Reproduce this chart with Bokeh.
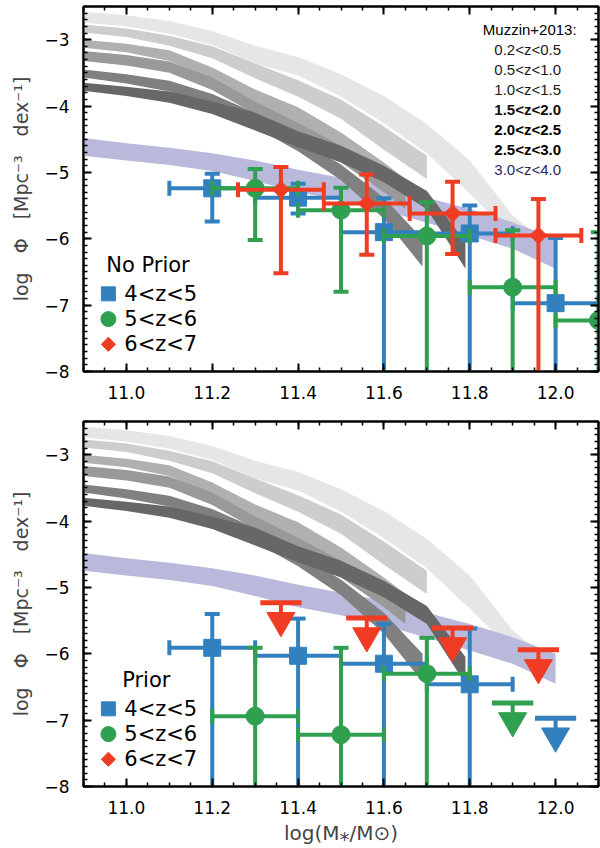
import numpy as np
from bokeh.plotting import figure
from bokeh.layouts import column
from bokeh.models import Range1d, FixedTicker, LinearAxis, ColumnDataSource
from bokeh.core.properties import value
from bokeh.embed import file_html
from bokeh.resources import INLINE

# ---------------- Muzzin+2013 bands (log M, lower, upper of log Phi) ----------------
mz_labels = ["0.2<z<0.5", "0.5<z<1.0", "1.0<z<1.5", "1.5<z<2.0",
             "2.0<z<2.5", "2.5<z<3.0", "3.0<z<4.0"]
mz_colors = ["#e6e6e6", "#cdcdcd", "#b0b0b0", "#999999", "#808080", "#676767", "#b9b9dc"]
mz_text_colors = ["#1a1a1a", "#1a1a1a", "#1a1a1a", "#111111", "#000000", "#000000", "#2a2a5a"]
mz_text_styles = ["normal", "normal", "normal", "bold", "bold", "bold", "normal"]

b1_x = [10.9, 11.0, 11.1, 11.2, 11.3, 11.4, 11.5, 11.6, 11.7, 11.8, 11.9, 11.95]
b1_lo = [-2.74, -2.80, -2.91, -3.08, -3.36, -3.54, -3.86, -4.26, -4.71, -5.32, -5.95, -6.20]
b1_hi = [-2.58, -2.63, -2.72, -2.87, -3.09, -3.26, -3.52, -3.85, -4.27, -4.82, -5.65, -5.90]

b2_x = [10.9, 11.0, 11.1, 11.2, 11.3, 11.4, 11.5, 11.6, 11.7]
b2_lo = [-2.89, -2.96, -3.09, -3.28, -3.58, -3.86, -4.19, -4.66, -5.10]
b2_hi = [-2.77, -2.83, -2.94, -3.10, -3.36, -3.61, -3.90, -4.31, -4.75]

b3_x = [10.9, 11.0, 11.1, 11.2, 11.3, 11.4, 11.5, 11.6, 11.65]
b3_lo = [-3.12, -3.19, -3.32, -3.60, -3.97, -4.26, -4.65, -5.15, -5.40]
b3_hi = [-3.00, -3.06, -3.16, -3.42, -3.75, -4.02, -4.40, -4.85, -5.10]

b4_x = [10.9, 11.0, 11.1, 11.2, 11.3, 11.4, 11.5, 11.6, 11.65]
b4_lo = [-3.32, -3.39, -3.50, -3.76, -4.12, -4.45, -4.85, -5.30, -5.55]
b4_hi = [-3.17, -3.23, -3.33, -3.57, -3.93, -4.25, -4.60, -5.00, -5.25]

b5_x = [10.9, 11.0, 11.1, 11.2, 11.3, 11.4, 11.5, 11.6, 11.69]
b5_lo = [-3.57, -3.66, -3.78, -4.00, -4.32, -4.68, -5.12, -5.70, -6.42]
b5_hi = [-3.45, -3.52, -3.62, -3.82, -4.10, -4.50, -4.88, -5.38, -6.00]

b6_x = [10.9, 11.0, 11.1, 11.2, 11.3, 11.4, 11.5, 11.6, 11.7, 11.79]
b6_lo = [-3.77, -3.85, -3.95, -4.12, -4.37, -4.62, -4.85, -5.15, -5.55, -6.45]
b6_hi = [-3.65, -3.71, -3.78, -3.93, -4.10, -4.38, -4.60, -4.90, -5.28, -6.05]

b7_x = [10.9, 11.0, 11.1, 11.2, 11.3, 11.4, 11.5, 11.6, 11.7, 11.8, 11.9, 12.0]
b7_lo = [-4.75, -4.82, -4.89, -4.98, -5.13, -5.30, -5.42, -5.57, -5.76, -5.95, -6.15, -6.45]
b7_hi = [-4.48, -4.56, -4.63, -4.71, -4.82, -4.96, -5.08, -5.20, -5.38, -5.55, -5.75, -6.00]

bands = [(b1_x, b1_lo, b1_hi), (b2_x, b2_lo, b2_hi), (b3_x, b3_lo, b3_hi),
         (b4_x, b4_lo, b4_hi), (b5_x, b5_lo, b5_hi), (b6_x, b6_lo, b6_hi),
         (b7_x, b7_lo, b7_hi)]
band_draw_order = [0, 1, 6, 2, 3, 4, 5]

# ---------------- series ----------------
series_labels = ["4<z<5", "5<z<6", "6<z<7"]
c_blue, c_green, c_red = "#3281be", "#2fa050", "#f03c23"
BELOW = -10.0  # error bar continues below the plotted range

# No Prior (top)
np_blue_x = [11.2, 11.4, 11.6, 11.8, 12.0]
np_blue_y = [-5.24, -5.38, -5.90, -5.92, -6.97]
np_blue_yhi = [-5.02, -5.17, -5.39, -5.50, -5.99]
np_blue_ylo = [-5.74, -5.62, BELOW, BELOW, BELOW]
np_blue_xlo = [11.1, 11.3, 11.5, 11.7, 11.9]
np_blue_xhi = [11.3, 11.5, 11.7, 11.9, 12.1]

np_green_x = [11.3, 11.5, 11.7, 11.9, 12.1]
np_green_y = [-5.24, -5.57, -5.96, -6.73, -7.23]
np_green_yhi = [-4.95, -5.23, -5.45, -5.87, -5.90]
np_green_ylo = [-6.02, -6.80, BELOW, BELOW, BELOW]
np_green_xlo = [11.2, 11.4, 11.6, 11.8, 12.0]
np_green_xhi = [11.4, 11.6, 11.8, 12.0, 12.2]

np_red_x = [11.36, 11.56, 11.76, 11.96]
np_red_y = [-5.26, -5.47, -5.62, -5.95]
np_red_yhi = [-4.92, -5.03, -5.14, -5.40]
np_red_ylo = [-6.52, -6.24, -6.23, BELOW]
np_red_xlo = [11.26, 11.46, 11.66, 11.86]
np_red_xhi = [11.46, 11.66, 11.86, 12.06]

# Prior (bottom)
pr_blue_x = [11.2, 11.4, 11.6, 11.8]
pr_blue_y = [-5.91, -6.03, -6.15, -6.46]
pr_blue_yhi = [-5.40, -5.47, -5.55, -5.62]
pr_blue_ylo = [BELOW, BELOW, BELOW, BELOW]
pr_blue_xlo = [11.1, 11.3, 11.5, 11.7]
pr_blue_xhi = [11.3, 11.5, 11.7, 11.9]
pr_blue_ul_x = [12.0]
pr_blue_ul_y = [-6.97]

pr_green_x = [11.3, 11.5, 11.7]
pr_green_y = [-6.94, -7.22, -6.30]
pr_green_yhi = [-5.91, -5.91, -5.76]
pr_green_ylo = [BELOW, BELOW, BELOW]
pr_green_xlo = [11.2, 11.4, 11.6]
pr_green_xhi = [11.4, 11.6, 11.8]
pr_green_ul_x = [11.9]
pr_green_ul_y = [-6.74]

pr_red_ul_x = [11.36, 11.56, 11.76, 11.96]
pr_red_ul_y = [-5.23, -5.46, -5.61, -5.94]

# ---------------- axes ----------------
x_ticks = [11.0, 11.2, 11.4, 11.6, 11.8, 12.0]
x_tick_labels = ["11.0", "11.2", "11.4", "11.6", "11.8", "12.0"]
y_ticks = [-8, -7, -6, -5, -4, -3]
y_tick_labels = ["\u22128", "\u22127", "\u22126", "\u22125", "\u22124", "\u22123"]
x_minor = [round(10.9 + 0.05 * i, 2) for i in range(25)]
y_minor = [round(-8.0 + 0.1 * i, 1) for i in range(56)]

FONT = "DejaVu Sans"
Y_LABEL = "log\u2003\u03a6\u2003[Mpc\u207b\u00b3\u2003dex\u207b\u00b9]"
X_LABEL = "log(M\u204e/M\u2299)"


def style_axis(ax, ticks, minor, labels, show_labels):
    ax.ticker = FixedTicker(ticks=ticks, minor_ticks=minor)
    ax.axis_line_width = 2
    ax.axis_line_color = "black"
    ax.major_tick_in = 8
    ax.major_tick_out = 0
    ax.minor_tick_in = 4
    ax.minor_tick_out = 0
    ax.major_tick_line_width = 2
    ax.minor_tick_line_width = 1.5
    ax.major_tick_line_color = "black"
    ax.minor_tick_line_color = "black"
    ax.major_label_text_font = FONT
    if show_labels:
        ax.major_label_overrides = {t: l for t, l in zip(ticks, labels)}
        ax.major_label_text_font_size = "17px"
        ax.major_label_text_color = "black"
        ax.major_label_standoff = 14
    else:
        ax.major_label_text_font_size = "1px"
        ax.major_label_text_color = None
        ax.major_label_standoff = 0


def make_panel(height, min_bottom, title, xlabel):
    p = figure(width=600, height=height, x_range=Range1d(10.9, 12.1),
               y_range=Range1d(-8.0, -2.5), output_backend="svg",
               toolbar_location=None, min_border_left=83, min_border_right=2,
               min_border_top=6, min_border_bottom=min_bottom)
    p.xgrid.visible = False
    p.ygrid.visible = False
    p.outline_line_color = "black"
    p.outline_line_width = 2
    p.background_fill_color = "white"
    p.border_fill_color = "white"
    ax_below = p.below[0]
    ax_left = p.left[0]
    style_axis(ax_below, x_ticks, x_minor, x_tick_labels, True)
    style_axis(ax_left, y_ticks, y_minor, y_tick_labels, True)
    ax_left.axis_label = Y_LABEL
    ax_left.axis_label_text_font = FONT
    ax_left.axis_label_text_font_size = "19px"
    ax_left.axis_label_text_font_style = "normal"
    ax_left.axis_label_standoff = 9
    if xlabel:
        ax_below.axis_label = X_LABEL
        ax_below.axis_label_text_font = FONT
        ax_below.axis_label_text_font_size = "20px"
        ax_below.axis_label_text_font_style = "normal"
        ax_below.axis_label_standoff = 4
    ax_top = LinearAxis()
    ax_right = LinearAxis()
    style_axis(ax_top, x_ticks, x_minor, x_tick_labels, False)
    style_axis(ax_right, y_ticks, y_minor, y_tick_labels, False)
    p.add_layout(ax_top, "above")
    p.add_layout(ax_right, "right")

    # Muzzin bands
    for i in band_draw_order:
        bx, blo, bhi = bands[i]
        p.varea(x=bx, y1=blo, y2=bhi, fill_color=mz_colors[i], fill_alpha=1.0)

    # legend (text + markers), placed in data units inside the frame
    p.text(x=[10.953 if title == "No Prior" else 10.99], y=[-6.40], text=[title],
           text_font=value(FONT), text_font_size="21px", text_baseline="middle",
           text_align="left", text_color="black")
    ly = [-6.83, -7.21, -7.59]
    p.scatter(x=[10.958], y=[ly[0]], marker="square", size=14, fill_color=c_blue, line_color=c_blue)
    p.scatter(x=[10.958], y=[ly[1]], marker="circle", size=15, fill_color=c_green, line_color=c_green)
    p.scatter(x=[10.958], y=[ly[2]], marker="square", angle=np.pi / 4, size=10,
              fill_color=c_red, line_color=c_red)
    p.text(x=[10.995] * 3, y=ly, text=series_labels, text_font=value(FONT),
           text_font_size="21px", text_baseline="middle", text_align="left", text_color="black")
    return p


def errbars(p, x, y, xlo, xhi, ylo, yhi, color, marker, size, angle=0.0):
    src = ColumnDataSource(dict(x=x, y=y, xlo=xlo, xhi=xhi, ylo=ylo, yhi=yhi))
    p.segment(x0="xlo", y0="y", x1="xhi", y1="y", source=src, line_color=color, line_width=4)
    p.segment(x0="x", y0="ylo", x1="x", y1="yhi", source=src, line_color=color, line_width=4)
    p.scatter(x="x", y="yhi", source=src, marker="dash", size=15, line_width=4, line_color=color)
    p.scatter(x="x", y="ylo", source=src, marker="dash", size=15, line_width=4, line_color=color)
    p.scatter(x="xlo", y="y", source=src, marker="dash", angle=np.pi / 2, size=15,
              line_width=4, line_color=color)
    p.scatter(x="xhi", y="y", source=src, marker="dash", angle=np.pi / 2, size=15,
              line_width=4, line_color=color)
    p.scatter(x="x", y="y", source=src, marker=marker, size=size, angle=angle,
              fill_color=color, line_color=color)


def upper_limits(p, x, y, color):
    xa = np.array(x)
    ya = np.array(y)
    src = ColumnDataSource(dict(x=xa, y=ya, x0=xa - 0.048, x1=xa + 0.048,
                                ys=ya - 0.15, yt=ya - 0.27))
    p.segment(x0="x0", y0="y", x1="x1", y1="y", source=src, line_color=color, line_width=5)
    p.segment(x0="x", y0="y", x1="x", y1="ys", source=src, line_color=color, line_width=4)
    p.scatter(x="x", y="yt", source=src, marker="inverted_triangle", size=28,
              fill_color=color, line_color=color)


top = make_panel(415, 44, "No Prior", False)
errbars(top, np_blue_x, np_blue_y, np_blue_xlo, np_blue_xhi, np_blue_ylo, np_blue_yhi,
        c_blue, "square", 17)
errbars(top, np_green_x, np_green_y, np_green_xlo, np_green_xhi, np_green_ylo, np_green_yhi,
        c_green, "circle", 18)
errbars(top, np_red_x, np_red_y, np_red_xlo, np_red_xhi, np_red_ylo, np_red_yhi,
        c_red, "square", 12, angle=np.pi / 4)

# Muzzin legend text (top panel only)
top.text(x=[12.049], y=[-2.85], text=["Muzzin+2013:"], text_font=value("Liberation Sans"),
         text_font_size="15px", text_align="right", text_baseline="middle", text_color="black")
mz_src = ColumnDataSource(dict(x=[11.935] * len(mz_labels),
                               y=[-3.15 - 0.30 * i for i in range(len(mz_labels))],
                               text=mz_labels, color=mz_text_colors, style=mz_text_styles))
top.text(x="x", y="y", text="text", source=mz_src, text_font=value("Liberation Sans"),
         text_font_size="15px", text_align="center", text_baseline="middle",
         text_color="color", text_font_style="style")

bot = make_panel(433, 62, "Prior", True)
errbars(bot, pr_blue_x, pr_blue_y, pr_blue_xlo, pr_blue_xhi, pr_blue_ylo, pr_blue_yhi,
        c_blue, "square", 17)
errbars(bot, pr_green_x, pr_green_y, pr_green_xlo, pr_green_xhi, pr_green_ylo, pr_green_yhi,
        c_green, "circle", 18)
upper_limits(bot, pr_blue_ul_x, pr_blue_ul_y, c_blue)
upper_limits(bot, pr_green_ul_x, pr_green_ul_y, c_green)
upper_limits(bot, pr_red_ul_x, pr_red_ul_y, c_red)

layout = column(top, bot, spacing=0)
open("out.html", "w").write(file_html(layout, INLINE))
